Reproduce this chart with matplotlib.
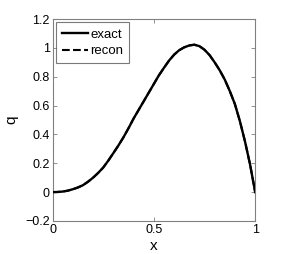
import matplotlib
matplotlib.use("Agg")
import matplotlib.pyplot as plt

plt.rcParams['font.family'] = ['Liberation Sans', 'DejaVu Sans']

# values
x = [0.0, 0.025, 0.05, 0.075, 0.1, 0.125, 0.15, 0.175, 0.2, 0.225, 0.25,
     0.275, 0.3, 0.325, 0.35, 0.375, 0.4, 0.425, 0.45, 0.475, 0.5, 0.525,
     0.55, 0.575, 0.6, 0.625, 0.65, 0.675, 0.7, 0.725, 0.75, 0.775, 0.8,
     0.825, 0.85, 0.875, 0.9, 0.925, 0.95, 0.975, 1.0]
exact = [0.0, 0.001, 0.004, 0.01, 0.02, 0.032, 0.048, 0.072, 0.10, 0.133,
         0.17, 0.218, 0.27, 0.323, 0.38, 0.443, 0.51, 0.57, 0.63, 0.69,
         0.75, 0.81, 0.862, 0.912, 0.953, 0.984, 1.004, 1.017, 1.022, 1.012,
         0.987, 0.95, 0.90, 0.845, 0.78, 0.70, 0.61, 0.49, 0.35, 0.19, 0.0]
recon = list(exact)

fig = plt.figure(figsize=(2.95, 2.54), dpi=100)
ax = fig.add_axes([0.178, 0.130, 0.687, 0.795])

ax.plot(x, recon, 'k--', lw=1.5, label='recon', zorder=2)
ax.plot(x, exact, 'k-', lw=1.7, label='exact', zorder=3)

ax.set_xlim(0, 1)
ax.set_ylim(-0.2, 1.2)
ax.set_xticks([0, 0.5, 1])
ax.set_xticklabels(['0', '0.5', '1'])
ax.set_yticks([-0.2, 0, 0.2, 0.4, 0.6, 0.8, 1, 1.2])
ax.set_yticklabels(['\u22120.2', '0', '0.2', '0.4', '0.6', '0.8', '1', '1.2'])
ax.tick_params(direction='in', top=True, right=True, length=3, width=0.6,
               color='0.5', labelsize=9, pad=2)
for s in ax.spines.values():
    s.set_color('0.5')
    s.set_linewidth(0.8)

ax.set_xlabel('x', fontsize=11, labelpad=2)
ax.set_ylabel('q', fontsize=11, labelpad=5)

h, l = ax.get_legend_handles_labels()
leg = ax.legend(h[::-1], l[::-1], loc='upper left', fontsize=9.5,
                frameon=True, fancybox=False, borderaxespad=0.25,
                handlelength=2.0, handletextpad=0.15, borderpad=0.45,
                labelspacing=0.35)
leg.get_frame().set_edgecolor('0.35')
leg.get_frame().set_linewidth(0.8)

fig.savefig('out.png', dpi=100)
